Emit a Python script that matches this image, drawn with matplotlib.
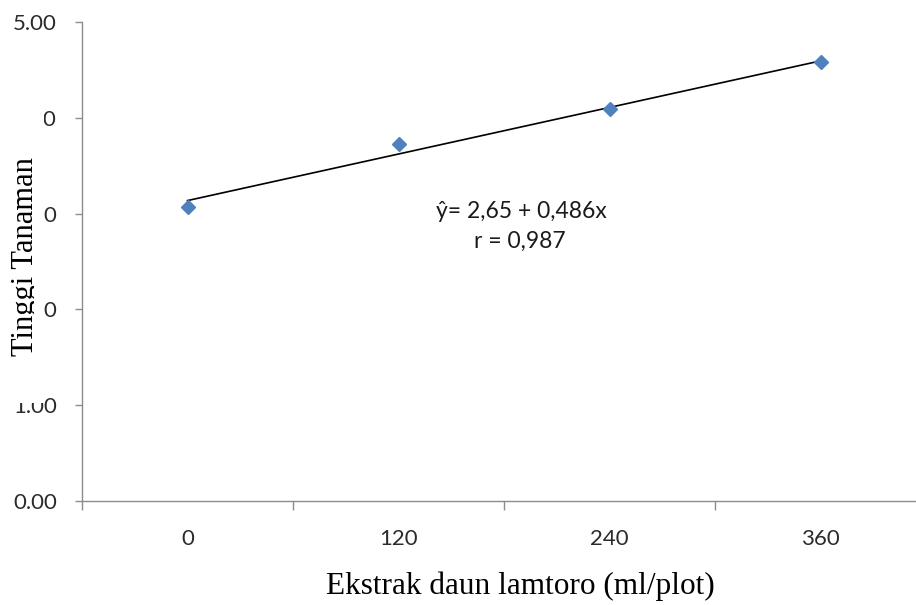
import matplotlib
matplotlib.use("Agg")
import matplotlib.pyplot as plt
import numpy as np
from matplotlib.patches import Rectangle

# Data: plant height vs. lamtoro leaf extract dose
doses = ["0", "120", "240", "360"]
heights = [3.07, 3.73, 4.09, 4.58]
intercept = 2.65
slope = 0.486
eq_text = "ŷ= 2,65 + 0,486x"
r_text = "r = 0,987"
y_ticks = [0, 1, 2, 3, 4, 5]

W, H = 916, 605
fig = plt.figure(figsize=(W / 100, H / 100), dpi=100)
ax = fig.add_axes([82 / W, 1 - 501 / H, 844 / W, 479 / H])

pos = np.arange(1, len(doses) + 1)
ax.plot(pos, heights, linestyle="none", marker="D", markersize=7.3,
        color="#4F81BD", zorder=3)
fit = intercept + slope * pos
ax.plot([pos[0], pos[-1]], [fit[0], fit[-1]], color="black", lw=1.2, zorder=2)

ax.set_xlim(0.5, len(doses) + 0.5)
ax.set_ylim(0, 5)

axis_grey = "#8c8c8c"
for s in ("top", "right"):
    ax.spines[s].set_visible(False)
for s in ("left", "bottom"):
    ax.spines[s].set_color(axis_grey)
    ax.spines[s].set_linewidth(1.0)

tick_font = ["Lato", "DejaVu Sans"]
ax.set_yticks(y_ticks)
ax.set_yticklabels([f"{v:.2f}" for v in y_ticks], fontsize=16,
                   family=tick_font, color="#2b2b2b")
ax.tick_params(axis="y", length=5, width=1, color=axis_grey, pad=13)

ax.set_xticks(np.arange(0.5, len(doses) + 1, 1.0))
ax.set_xticklabels([])
ax.tick_params(axis="x", which="major", length=6.5, width=1, color=axis_grey)
ax.set_xticks(pos, minor=True)
ax.set_xticklabels(doses, minor=True, fontsize=16, family=tick_font,
                   color="#2b2b2b")
ax.tick_params(axis="x", which="minor", length=0, pad=20)

fig.text(521 / W, 1 - 211 / H, eq_text, ha="center", va="center",
         fontsize=16.5, family=tick_font, color="#1a1a1a")
fig.text(520 / W, 1 - 241 / H, r_text, ha="center", va="center",
         fontsize=16.5, family=tick_font, color="#1a1a1a")

fig.text(520 / W, 1 - 586 / H, "Ekstrak daun lamtoro (ml/plot)",
         ha="center", va="center", fontsize=22.5,
         family="Liberation Serif", color="black")

# Title box for the vertical axis label, drawn over the tick labels
fig.patches.append(Rectangle((0, 1 - 403 / H), 44 / W, 303 / H,
                             transform=fig.transFigure, facecolor="white",
                             edgecolor="none", zorder=5))
fig.text(26 / W, 1 - 257 / H, "Tinggi Tanaman", rotation=90,
         ha="center", va="center", fontsize=22,
         family="Liberation Serif", color="black", zorder=6)
# inner margin of the title box trims the descenders
fig.patches.append(Rectangle((34 / W, 1 - 403 / H), 10 / W, 303 / H,
                             transform=fig.transFigure, facecolor="white",
                             edgecolor="none", zorder=7))

fig.savefig("out.png", dpi=100, facecolor="white")
